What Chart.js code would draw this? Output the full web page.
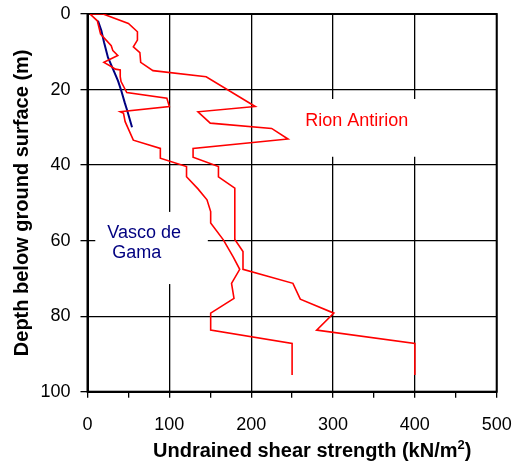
<!DOCTYPE html>
<html>
<head>
<meta charset="utf-8">
<script src="https://cdn.jsdelivr.net/npm/chart.js@4.4.1/dist/chart.umd.min.js"></script>
<style>
  html, body { margin: 0; padding: 0; background: #fff; }
  canvas { display: block; }
</style>
</head>
<body>
<canvas id="profile" width="513" height="464"></canvas>
<script>
// undrained shear strength (kN/m2) vs depth (m)
const rionUpperSu    = [3, 19, 50, 61, 61, 56, 64, 65, 80, 145, 205, 135, 150, 225, 245, 129, 129, 160, 160, 180, 180, 190, 190, 251, 260, 301, 280, 400, 400];
const rionUpperDepth = [0, 0, 2.5, 4.7, 6.9, 8.7, 10.2, 12.8, 15, 16.6, 24.5, 25.9, 28.9, 30.3, 33.1, 35.6, 37.9, 40.4, 43.1, 46.1, 59.7, 62.9, 67.6, 71.3, 75.5, 79.2, 83.7, 87.2, 95.6];

const rionLowerSu    = [3, 12, 16, 29, 31, 37, 20, 29, 34, 40, 40, 41, 48, 97, 100, 40, 44, 46, 56, 89, 89, 121, 121, 135, 146, 150.5, 150.5, 166, 178, 186, 176, 179, 150.5, 150.5, 250, 250];
const rionLowerDepth = [0, 1.8, 5.3, 8.4, 9.7, 11, 12.8, 13.9, 14.6, 14.8, 16.6, 17.9, 20.8, 22.3, 24.5, 25.9, 26.3, 28.5, 33.4, 35.6, 38.2, 40.4, 43.1, 46.3, 49.2, 52.3, 55.3, 59.8, 64.3, 67.6, 71.3, 75.3, 79.2, 83.7, 87.2, 95.6];

const vascoSu    = [12.8, 16.9, 20.2, 25, 31.2, 37.3, 41.3, 45.4, 48.6, 51.5, 54.4];
const vascoDepth = [1.8, 4.4, 7.5, 11.5, 14.6, 17.7, 20.3, 23.4, 25.6, 27.8, 30];

const FONT = '"Liberation Sans", Arial, sans-serif';

function pairs(xs, ys) {
  return xs.map((x, i) => ({ x: x, y: ys[i] }));
}

// keep the plot frame where the layout padding puts it
function fixSize(prop, size) {
  return (scale) => {
    scale[prop] = size;
    scale.paddingTop = 0;
    scale.paddingBottom = 0;
    scale.paddingLeft = 0;
    scale.paddingRight = 0;
  };
}

// white label boxes, frame, site names and the x title
const annotations = {
  id: 'annotations',
  beforeDatasetsDraw(chart) {
    const { ctx, chartArea, scales: { x, y } } = chart;
    ctx.save();
    ctx.fillStyle = '#fff';
    // behind "Rion Antirion"
    ctx.fillRect(x.getPixelForValue(255), y.getPixelForValue(22.5),
      x.getPixelForValue(462) - x.getPixelForValue(255), y.getPixelForValue(37.8) - y.getPixelForValue(22.5));
    // behind "Vasco de Gama"
    ctx.fillRect(x.getPixelForValue(9.5), y.getPixelForValue(52.4),
      x.getPixelForValue(147) - x.getPixelForValue(9.5), y.getPixelForValue(71.5) - y.getPixelForValue(52.4));
    ctx.strokeStyle = '#000';
    ctx.lineWidth = 2;
    ctx.strokeRect(chartArea.left, chartArea.top, chartArea.right - chartArea.left, chartArea.bottom - chartArea.top);
    ctx.restore();
  },
  afterDraw(chart) {
    const { ctx, scales: { x, y } } = chart;
    ctx.save();
    ctx.font = '18px ' + FONT;
    ctx.textBaseline = 'alphabetic';
    ctx.fillStyle = '#ff0000';
    ctx.textAlign = 'center';
    ctx.fillText('Rion Antirion', x.getPixelForValue(329), y.getPixelForValue(29.6));
    ctx.fillStyle = '#000080';
    ctx.textAlign = 'left';
    ctx.fillText('Vasco de', x.getPixelForValue(24.2), y.getPixelForValue(59.4));
    ctx.fillText(' Gama', x.getPixelForValue(24.2), y.getPixelForValue(64.7));

    // x axis title with a raised "2"
    ctx.fillStyle = '#000';
    ctx.font = 'bold 20px ' + FONT;
    const main = 'Undrained shear strength (kN/m';
    let px = 153;
    const base = 456.5;
    ctx.fillText(main, px, base);
    px += ctx.measureText(main).width;
    ctx.font = 'bold 13px ' + FONT;
    ctx.fillText('2', px, base - 8);
    px += ctx.measureText('2').width;
    ctx.font = 'bold 20px ' + FONT;
    ctx.fillText(')', px, base);
    ctx.restore();
  }
};

const chart = new Chart(document.getElementById('profile'), {
  type: 'scatter',
  data: {
    datasets: [
      {
        label: 'Rion Antirion upper',
        data: pairs(rionUpperSu, rionUpperDepth),
        showLine: true,
        borderColor: '#ff0000',
        borderWidth: 1.6,
        pointRadius: 0,
        tension: 0
      },
      {
        label: 'Rion Antirion lower',
        data: pairs(rionLowerSu, rionLowerDepth),
        showLine: true,
        borderColor: '#ff0000',
        borderWidth: 1.6,
        pointRadius: 0,
        tension: 0
      },
      {
        label: 'Vasco de Gama',
        data: pairs(vascoSu, vascoDepth),
        showLine: true,
        borderColor: '#000080',
        borderWidth: 2,
        pointRadius: 0,
        tension: 0
      }
    ]
  },
  options: {
    responsive: false,
    animation: false,
    devicePixelRatio: 1,
    layout: { padding: { top: 14, right: 16.3, bottom: 0, left: 0 } },
    plugins: {
      legend: { display: false },
      tooltip: { enabled: false }
    },
    scales: {
      x: {
        type: 'linear',
        min: 0,
        max: 500,
        afterFit: fixSize('height', 72.3),
        ticks: {
          stepSize: 50,
          autoSkip: false,
          maxRotation: 0,
          padding: 17,
          color: '#000',
          font: { family: FONT, size: 18 },
          callback: (v) => (v % 100 === 0 ? v : '')
        },
        grid: {
          color: (c) => (c.tick && c.tick.value % 100 === 0 ? '#000' : 'rgba(0,0,0,0)'),
          lineWidth: 1.3,
          tickColor: '#000',
          tickWidth: 1.3,
          tickLength: 6
        },
        border: { display: true, color: '#000', width: 2 }
      },
      y: {
        type: 'linear',
        reverse: true,
        min: 0,
        max: 100,
        afterFit: fixSize('width', 87.5),
        ticks: {
          stepSize: 20,
          padding: 10,
          color: '#000',
          font: { family: FONT, size: 18 }
        },
        grid: {
          color: '#000',
          lineWidth: 1.3,
          tickColor: '#000',
          tickWidth: 1.3,
          tickLength: 7
        },
        border: { display: true, color: '#000', width: 2 },
        title: {
          display: true,
          text: 'Depth below ground surface (m)',
          color: '#000',
          font: { family: FONT, size: 20, weight: 'bold' },
          padding: { top: 10, bottom: 0 }
        }
      }
    }
  },
  plugins: [annotations]
});
</script>
</body>
</html>
